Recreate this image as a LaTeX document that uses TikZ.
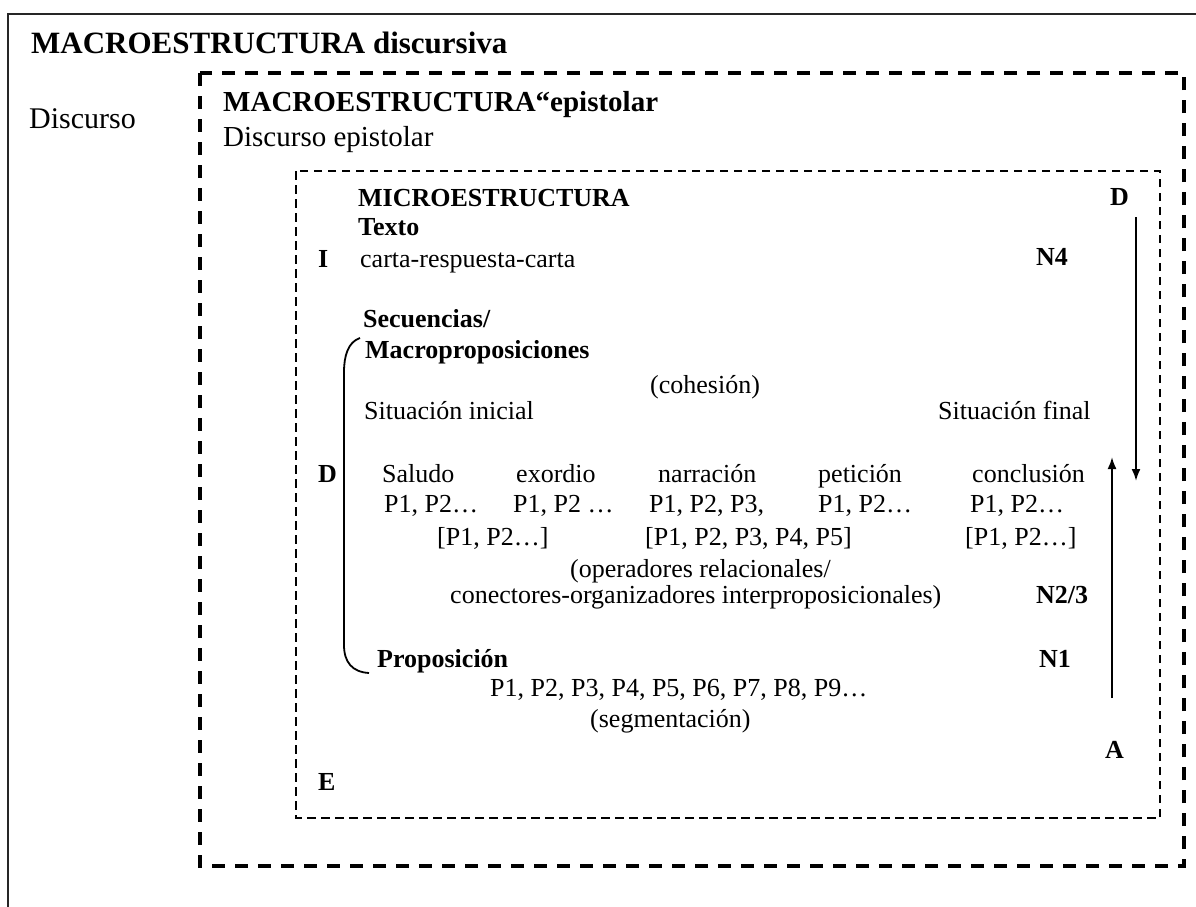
\documentclass[tikz,border=0pt]{standalone}
\usepackage{fontspec}
\setmainfont{Liberation Serif}
\usetikzlibrary{arrows.meta}
\begin{document}
\begin{tikzpicture}[x=1pt,y=-1pt,
  t/.style={anchor=base west,inner sep=0pt,font=\fontsize{26}{30}\selectfont},
  tb/.style={t,font=\fontsize{26}{30}\selectfont\bfseries},
  big/.style={anchor=base west,inner sep=0pt,font=\fontsize{29}{34}\selectfont},
  bigb/.style={big,font=\fontsize{29}{34}\selectfont\bfseries},
  thickdash/.style={line width=3.2pt,dash pattern=on 13pt off 10pt},
  thindash/.style={line width=1.5pt,dash pattern=on 8.5pt off 5.5pt},
  levelarrow/.style={line width=2pt,-{Latex[length=12pt,width=9pt]}}]
\useasboundingbox (0,0) rectangle (1196,907);
\clip (0,0) rectangle (1196,907);

% outer frame (runs off the page on the right and bottom)
\draw[line width=2.2pt,black!85] (8,14) rectangle (1230,940);
% macrostructure frames
\draw[thickdash] (200,73) rectangle (1184,866);
\draw[thindash] (296,171) rectangle (1160,818);

% headings
\node[anchor=base west,inner sep=0pt,font=\fontsize{31}{36}\selectfont\bfseries] (title) at (31,53) {MACROESTRUCTURA discursiva};
\node[anchor=base west,inner sep=0pt,font=\fontsize{30}{35}\selectfont] (disc) at (29,128) {Discurso};
\node[bigb] (macroep) at (223,111) {MACROESTRUCTURA“epistolar};
\node[big] (discep) at (223,146) {Discurso epistolar};

% microstructure
\node[tb] (micro) at (358,206) {MICROESTRUCTURA};
\node[tb] (texto) at (358,235) {Texto};
\node[tb] (li) at (318,267) {I};
\node[t] (carta) at (360,267) {carta-respuesta-carta};
\node[tb] (nfour) at (1036,265) {N4};
\node[tb] (dtop) at (1110,205) {D};

\node[tb] (secu) at (363,327) {Secuencias/};
\node[tb] (macrop) at (365,358) {Macroproposiciones};
\node[t] (cohe) at (650,393) {(cohesión)};
\node[t] (sitini) at (364,419) {Situación inicial};
\node[t] (sitfin) at (938,419) {Situación final};

\node[tb] (dleft) at (318,482) {D};
\node[t] (salu) at (382,482) {Saludo};
\node[t] (exor) at (516,482) {exordio};
\node[t] (narr) at (658,482) {narración};
\node[t] (peti) at (818,482) {petición};
\node[t] (concl) at (972,482) {conclusión};

\node[t] (pa) at (384,512) {P1, P2…};
\node[t] (pb) at (513,512) {P1, P2 …};
\node[t] (pc) at (649,512) {P1, P2, P3,};
\node[t] (pd) at (818,512) {P1, P2…};
\node[t] (pe) at (970,512) {P1, P2…};

\node[t] (qa) at (437,545) {[P1, P2…]};
\node[t] (qb) at (645,545) {[P1, P2, P3, P4, P5]};
\node[t] (qc) at (965,545) {[P1, P2…]};

\node[t] (oper) at (570,577) {(operadores relacionales/};
\node[t] (conec) at (450,603) {conectores-organizadores interproposicionales)};
\node[tb] (ntwo) at (1036,603) {N2/3};

\node[tb] (prop) at (377,667) {Proposición};
\node[tb] (none) at (1039,667) {N1};
\node[t] (plist) at (490,696) {P1, P2, P3, P4, P5, P6, P7, P8, P9…};
\node[t] (segm) at (590,727) {(segmentación)};

\node[tb] (la) at (1105,758) {A};
\node[tb] (le) at (318,790) {E};

% bracket grouping the sequence levels
\draw[line width=1.8pt] (360,338) .. controls (348,342) and (344,356) .. (344,372)
  -- (344,645) .. controls (344,662) and (352,672) .. (369,673);

% descending and ascending arrows
\coordinate (downs) at (1136,217);
\coordinate (downe) at (1136,481);
\coordinate (ups) at (1112,698);
\coordinate (upe) at (1112,457);
\draw[levelarrow] (downs) -- (downe);
\draw[levelarrow] (ups) -- (upe);
\end{tikzpicture}
\end{document}
